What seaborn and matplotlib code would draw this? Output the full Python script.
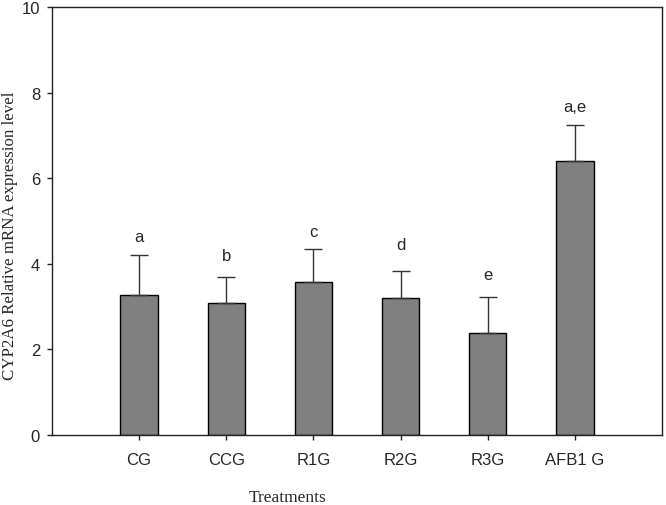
import numpy as np
import pandas as pd
import matplotlib
matplotlib.use("Agg")
import matplotlib.pyplot as plt
import seaborn as sns

# valores
treatments = ["CG", "CCG", "R1G", "R2G", "R3G", "AFB1 G"]
mean_expr = [3.26, 3.09, 3.56, 3.19, 2.38, 6.40]
sd_expr = [0.95, 0.59, 0.78, 0.64, 0.84, 0.84]
letters = ["a", "b", "c", "d", "e", "a,e"]
letter_y = [4.64, 4.19, 4.75, 4.45, 3.74, 7.68]

df = pd.DataFrame({"Treatments": treatments, "Expr": mean_expr})

sns.set_style("ticks")
plt.rcParams["font.family"] = ["Liberation Sans", "DejaVu Sans"]

fig = plt.figure(figsize=(6.66, 5.06), dpi=100)
ax = fig.add_axes([0.078, 0.139, 0.916, 0.845])

sns.barplot(data=df, x="Treatments", y="Expr", ax=ax, color="#808080",
            saturation=1, width=0.43, edgecolor="black", linewidth=1.0,
            errorbar=None)
xpos = np.arange(len(treatments))
ax.errorbar(xpos, mean_expr, yerr=[np.zeros(len(sd_expr)), sd_expr],
            fmt="none", ecolor="#333333", elinewidth=1.0, capsize=6.5,
            capthick=1.0, zorder=1)
for x, t, y in zip(xpos, letters, letter_y):
    ax.text(x, y, t, ha="center", va="center", fontsize=12)

ax.set_xlim(-1, 6)
ax.set_ylim(0, 10)
ax.set_yticks([0, 2, 4, 6, 8, 10])
for s in ax.spines.values():
    s.set_color("#222222")
    s.set_linewidth(1.0)
ax.tick_params(axis="both", direction="out", length=3.6, width=1.0,
               color="#222222", labelsize=12)
ax.tick_params(axis="x", pad=9)
ax.tick_params(axis="y", pad=5)

ax.set_ylabel("CYP2A6 Relative mRNA expression level", family="Liberation Serif",
              fontsize=12.2)
ax.yaxis.set_label_coords(-0.056, 0.468)
ax.set_xlabel("Treatments", family="Liberation Serif", fontsize=12.5)
ax.xaxis.set_label_coords(0.387, -0.128)

fig.savefig("out.png", dpi=100)
